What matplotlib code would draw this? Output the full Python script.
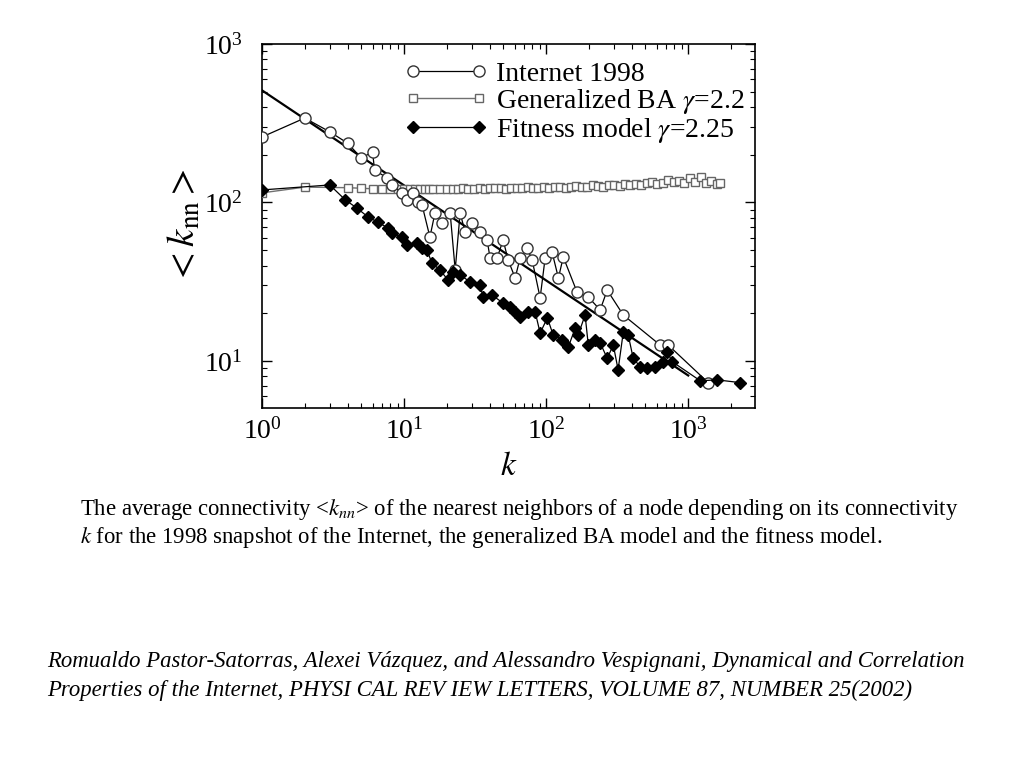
import matplotlib.pyplot as plt
import numpy as np

plt.rcParams['font.family'] = ['Liberation Serif', 'DejaVu Serif']
plt.rcParams['mathtext.fontset'] = 'stix'

# Internet 1998 snapshot (open circles)
inet_k = [1, 2, 3, 4, 5, 6, 6.2, 7.6, 8.2, 9.7, 10.5, 11.6, 12.6, 13.4, 15.2, 16.5,
          18.5, 21.1, 22.9, 24.8, 26.9, 30.1, 34.3, 38.4, 40.3, 45.2, 49.8, 54, 60.5,
          65.6, 73.5, 79.7, 90.7, 98.4, 110, 122, 132, 165, 198, 240, 269, 349, 635,
          723, 1383]
inet_y = [259, 341, 279, 237, 191, 208, 160, 143, 129, 115, 104, 115, 101, 96, 60.5, 86,
          74, 86, 37.5, 86, 65, 74, 65, 58, 44.7, 44.7, 58, 43.4, 33.4,
          44.7, 51.6, 43.4, 25, 44.7, 48.7, 33.4, 45.3, 27.2, 25.3, 21, 28, 19.5, 12.6,
          12.6, 7.3]

# Generalized BA model (grey squares)
ba_k = [1, 2, 4, 5, 6, 7, 8, 9, 10, 11, 12, 13, 14, 15, 16, 18, 20, 22, 24, 26, 28, 31,
        34, 37, 40, 44, 48, 52, 57, 62, 68, 74, 81, 88, 96, 105, 115, 125, 137, 150,
        163, 178, 195, 212, 232, 253, 276, 301, 329, 359, 392, 428, 467, 510, 556,
        607, 663, 723, 789, 861, 940, 1026, 1120, 1222, 1334, 1456, 1589, 1680]
ba_y = [115, 125, 124, 123, 122, 122, 121, 122, 121, 122, 121, 122, 121, 122, 122, 121,
        122, 121, 122, 123, 122, 122, 123, 122, 123, 124, 123, 122, 124, 123, 124, 125,
        124, 123, 125, 124, 126, 125, 124, 126, 127, 125, 126, 128, 127, 126, 129, 128,
        127, 130, 129, 131, 128, 132, 135, 131, 133, 138, 134, 136, 132, 142, 135, 145,
        132, 136, 131, 132]

# Fitness model (black diamonds)
fit_k = [1, 3, 3.85, 4.67, 5.58, 6.56, 7.71, 8.23, 9.68, 10.5, 12.3, 13.4, 14.5, 15.7,
         17.9, 20.4, 22.1, 24.8, 29.2, 34.3, 36, 41.7, 49.8, 55.7, 60.5, 65.6, 74.7,
         83.7, 90.7, 102, 112, 130, 143, 160, 168, 188, 198, 221, 240, 269, 297, 321,
         349, 378, 410, 459, 515, 586, 667, 711, 771, 1216, 1600, 2323]
fit_y = [120, 129, 104, 92, 81, 75, 69, 64, 60.6, 54, 55.5, 51.6, 50, 41.5,
         37.5, 32.4, 36.5, 34.9, 31.5, 30.1, 25.3, 26, 23.2, 21.9, 20.4, 19, 20.4,
         20.4, 15, 18.7, 14.6, 13.6, 12.2, 16.1, 14.6, 19.5, 12.6, 13.6, 13, 10.4, 12.6, 8.8,
         15.2, 14.6, 10.4, 9.2, 9.0, 9.2, 9.9, 11.4, 9.9, 7.5, 7.6, 7.3]

# power-law guide line
line_k = [1, 1000]
line_y = [510, 8.1]

fig = plt.figure(figsize=(10.24, 7.68), dpi=100)
ax = fig.add_axes([262/1024, 1-408/768, (755-262)/1024, (408-44)/768])

ax.plot(line_k, line_y, color='black', linewidth=1.6, zorder=2)
ax.plot(ba_k, ba_y, color='#707070', linewidth=1, marker='s', markersize=6,
        markerfacecolor='white', markeredgecolor='#666666', markeredgewidth=1,
        label=r'Generalized BA $\gamma$=2.2', zorder=3)
ax.plot(inet_k, inet_y, color='black', linewidth=0.9, marker='o', markersize=8,
        markerfacecolor='white', markeredgecolor='#333333', markeredgewidth=1,
        label='Internet 1998', zorder=4)
ax.plot(fit_k, fit_y, color='black', linewidth=0.9, marker='D', markersize=6.5,
        markerfacecolor='black', markeredgecolor='black',
        label=r'Fitness model $\gamma$=2.25', zorder=5)

ax.set_xscale('log')
ax.set_yscale('log')
ax.set_xlim(1, 10**3.47)
ax.set_ylim(5.05, 1000)

ax.tick_params(which='both', direction='in', top=True, right=True, labelsize=20)
ax.tick_params(which='major', length=7, width=1)
ax.tick_params(which='minor', length=3.5, width=0.8)
ax.tick_params(axis='x', pad=7)
ax.tick_params(axis='y', pad=14)
for s in ax.spines.values():
    s.set_linewidth(1.2)

ax.set_xlabel(r'$k$', fontsize=24, labelpad=5)
ax.set_ylabel(r'$<k_{\rm nn}>$', fontsize=28, labelpad=0)

handles, labels = ax.get_legend_handles_labels()
order = [1, 0, 2]
ax.legend([handles[i] for i in order], [labels[i] for i in order],
          loc='upper left', bbox_to_anchor=(0.255, 0.997), frameon=False,
          fontsize=20, handlelength=3.0, numpoints=2, labelspacing=0.0,
          handletextpad=0.3, borderaxespad=0.2)

fig.text(80/1024, 1-509/768,
         r'The average connectivity <$k_{nn}$> of the nearest neighbors of a node depending on its connectivity',
         fontsize=16.4, va='center', ha='left')
fig.text(80/1024, 1-537/768,
         r'$k$ for the 1998 snapshot of the Internet, the generalized BA model and the fitness model.',
         fontsize=16.4, va='center', ha='left')
fig.text(47/1024, 1-662/768,
         'Romualdo Pastor-Satorras, Alexei Vázquez, and Alessandro Vespignani, Dynamical and Correlation',
         fontsize=16.4, va='center', ha='left', style='italic')
fig.text(47/1024, 1-690/768,
         'Properties of the Internet, PHYSI CAL REV IEW LETTERS, VOLUME 87, NUMBER 25(2002)',
         fontsize=16.4, va='center', ha='left', style='italic')

fig.savefig('out.png', dpi=100)
